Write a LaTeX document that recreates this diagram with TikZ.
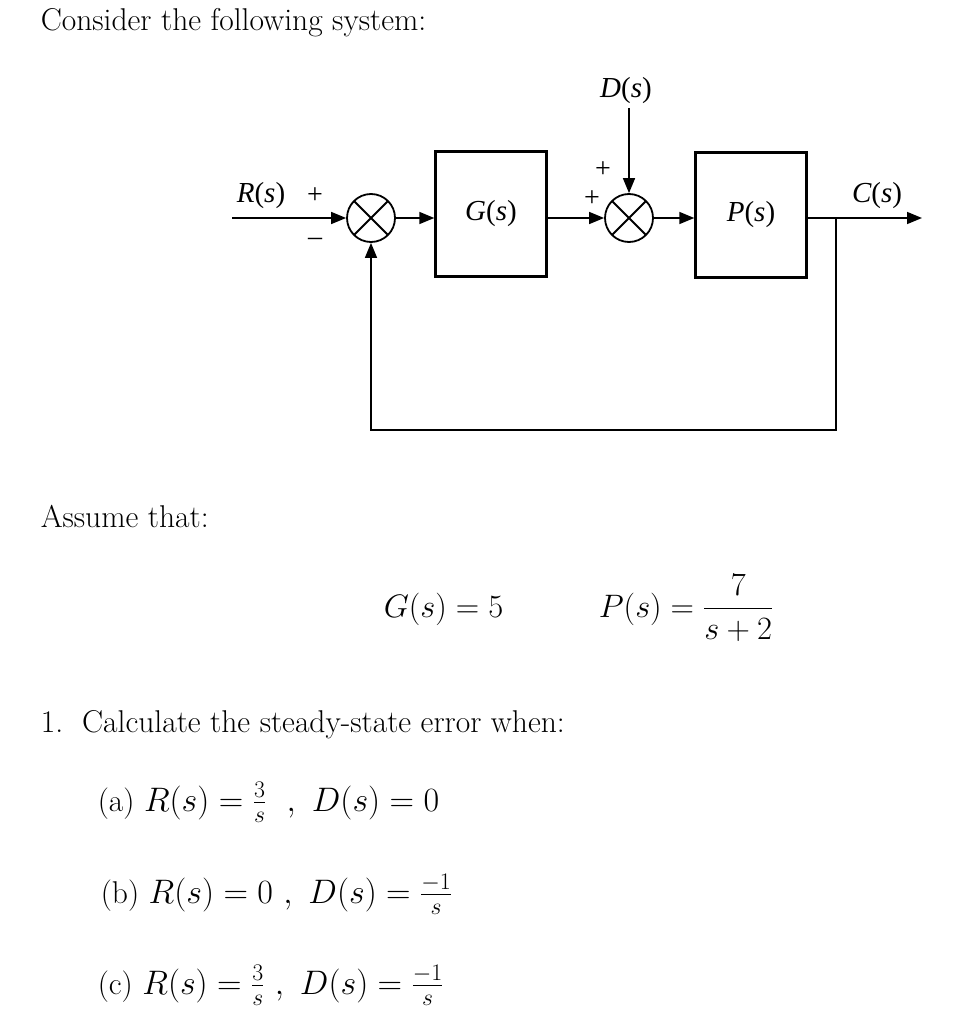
\RequirePackage{fix-cm}
\documentclass[tikz,border=0pt]{standalone}
\usepackage{amsmath}
\usepackage{fontspec}
\usetikzlibrary{arrows.meta,positioning}
\newfontfamily\blockfont{Liberation Serif}
\newcommand{\sig}[1]{{\blockfont\itshape #1}{\blockfont(}{\blockfont\itshape s}{\blockfont)}}
\newcommand{\bigmath}[1]{{\fontsize{34}{40}\selectfont$#1$}}

\begin{document}
\begin{tikzpicture}[
  x=1pt, y=-1pt,
  line width=1.6pt,
  every node/.style={inner sep=0pt},
  blk/.style={draw, line width=2.4pt, minimum width=111pt, minimum height=125pt,
              font=\fontsize{29}{34}\selectfont},
  sumj/.style={draw, circle, line width=1.8pt, minimum size=48pt,
               path picture={\draw[line width=1.8pt]
                 (path picture bounding box.north west) -- (path picture bounding box.south east)
                 (path picture bounding box.north east) -- (path picture bounding box.south west);}},
  sigl/.style={font=\fontsize{29}{34}\selectfont},
  sgn/.style={font=\blockfont\fontsize{28}{32}\selectfont},
  txt/.style={anchor=base west, font=\fontsize{31.5}{36}\selectfont},
  eqn/.style={anchor=base west, font=\fontsize{32.5}{38}\selectfont},
  >={Triangle[length=15pt,width=12pt]}
]
\useasboundingbox (0,0) rectangle (953,1024);

% text above and below the diagram
\node[txt] (intro) at (40,31) {Consider the following system:};
\node[txt] (assume) at (40,527) {Assume that:};
\node[txt] (task) at (40,732) {1.\ \ Calculate the steady-state error when:};

% blocks and summing junctions
\node[sumj] (s1) at (371,218) {};
\node[blk] (G) at (491,214) {\sig{G}};
\node[sumj] (s2) at (629,218) {};
\node[blk] (P) at (751,215) {\sig{P}};

\coordinate (rin) at (232,218);
\coordinate (din) at (629,108);
\coordinate (tap) at (836,218);
\coordinate (cout) at (922,218);
\coordinate (fbr) at (836,430);
\coordinate (fbl) at (371,430);

% signals
\node[sigl] (rlab) at (261,196) {\sig{R}};
\node[sigl] (dlab) at (626,91) {\sig{D}};
\node[sigl] (clab) at (877,196) {\sig{C}};
\node[sgn] (p1) at (315,196) {+};
\node[sgn] (m1) at (315,242) {–};
\node[sgn] (p2) at (603,170) {+};
\node[sgn] (p3) at (592,199) {+};

\draw[->] (rin) -- (s1);
\draw[->] (s1) -- (s1 -| G.west);
\draw[->] (s2 -| G.east) -- (s2);
\draw[->] (din) -- (s2);
\draw[->] (s2) -- (s2 -| P.west);
\draw[->] (tap -| P.east) -- (cout);
\draw[->] (tap) -- (fbr) -- (fbl) -- (s1);

% given transfer functions
\node[eqn] (geq) at (383,617) {$G(s) = 5$};
\node[eqn] (peq) at (598,617) {$P(s) = \dfrac{7}{s+2}$};

% cases
\node[txt] (ca) at (97,811) {(a) \bigmath{R(s) = \frac{3}{s}\ \ ,\ D(s) = 0}};
\node[txt] (cb) at (100,903) {(b) \bigmath{R(s) = 0\ ,\ D(s) = \frac{-1}{s}}};
\node[txt] (cc) at (97,994) {(c) \bigmath{R(s) = \frac{3}{s}\ ,\ D(s) = \frac{-1}{s}}};
\end{tikzpicture}
\end{document}
